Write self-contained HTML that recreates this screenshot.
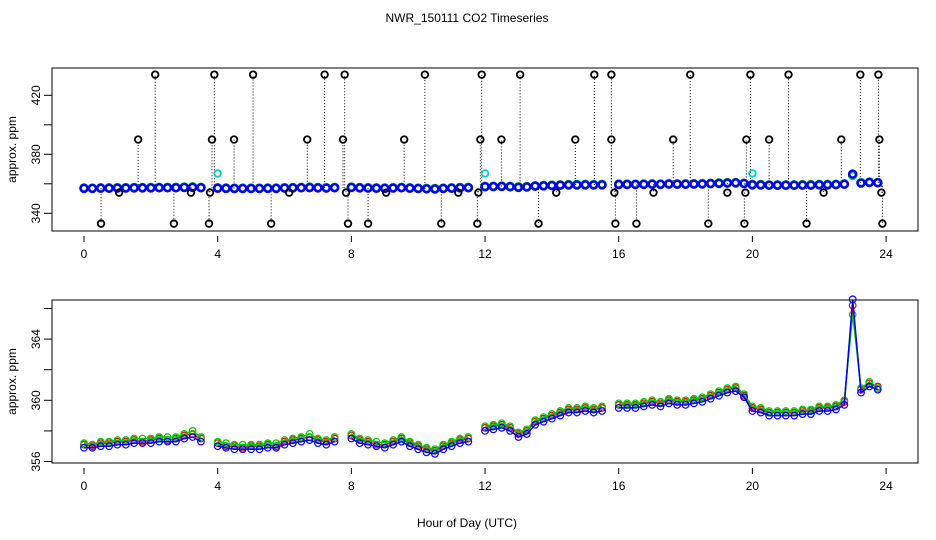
<!DOCTYPE html>
<html><head><meta charset="utf-8"><style>
body{margin:0;background:#fff;}
svg{display:block;font-family:"Liberation Sans",sans-serif;}
</style></head><body>
<svg id="chart" width="936" height="540" viewBox="0 0 936 540">
<text x="467" y="22" font-size="12" text-anchor="middle">NWR_150111  CO2 Timeseries</text>
<text x="467" y="527" font-size="12" text-anchor="middle">Hour of Day (UTC)</text>
<g id="topPanel"></g>
<g id="botPanel"></g>
</svg>
<script>
const hours = Array.from({length:96},(_, i)=>i*0.25);
const blueVals = [356.9,356.9,357.0,357.0,357.1,357.1,357.2,357.2,357.2,357.3,357.3,357.3,357.5,357.6,357.3,null,
357.0,356.9,356.8,356.8,356.8,356.8,356.9,356.9,357.1,357.2,357.3,357.4,357.2,357.1,357.3,null,
357.5,357.2,357.1,357.0,356.9,357.1,357.3,357.0,356.8,356.6,356.5,356.8,357.0,357.2,357.3,null,
358.0,358.1,358.2,358.0,357.6,357.8,358.4,358.6,358.8,359.0,359.2,359.2,359.3,359.2,359.3,null,
359.5,359.5,359.5,359.6,359.7,359.6,359.8,359.7,359.7,359.8,359.9,360.1,360.3,360.5,360.6,360.2,
359.3,359.2,359.0,359.0,359.0,359.0,359.1,359.1,359.3,359.3,359.4,359.7,366.6,360.5,360.9,360.7];
const redVals = [357.1,357.0,357.2,357.2,357.3,357.3,357.4,357.3,357.4,357.5,357.4,357.5,357.7,357.8,357.5,null,
357.2,357.0,357.0,356.9,357.0,357.0,357.1,357.0,357.3,357.4,357.5,357.6,357.4,357.3,357.5,null,
357.7,357.4,357.3,357.1,357.1,357.3,357.5,357.2,357.0,356.8,356.7,357.0,357.2,357.4,357.5,null,
358.2,358.3,358.4,358.2,357.8,358.0,358.6,358.8,359.0,359.2,359.4,359.4,359.5,359.4,359.5,null,
359.7,359.7,359.7,359.8,359.9,359.8,360.0,359.9,359.9,360.0,360.1,360.3,360.5,360.7,360.8,360.3,
359.5,359.4,359.2,359.2,359.2,359.2,359.3,359.3,359.5,359.5,359.6,359.9,366.2,360.7,361.1,360.9];
const greenVals = [357.2,357.1,357.3,357.3,357.4,357.4,357.5,357.5,357.5,357.6,357.6,357.6,357.8,358.0,357.6,null,
357.3,357.2,357.1,357.1,357.1,357.1,357.2,357.2,357.4,357.5,357.6,357.8,357.5,357.4,357.6,null,
357.8,357.5,357.4,357.3,357.2,357.4,357.6,357.3,357.1,356.9,356.8,357.1,357.3,357.5,357.6,null,
358.3,358.4,358.5,358.3,357.9,358.1,358.7,358.9,359.1,359.3,359.5,359.5,359.6,359.5,359.6,null,
359.8,359.8,359.8,359.9,360.0,359.9,360.1,360.0,360.0,360.1,360.2,360.4,360.6,360.8,360.9,360.4,
359.6,359.5,359.3,359.3,359.3,359.3,359.4,359.4,359.6,359.6,359.7,360.0,365.6,360.8,361.2,360.8];
const outlierHours = [2.13,3.9,5.06,7.2,7.8,10.2,11.9,13.05,15.27,15.78,18.14,19.94,21.08,23.23,23.77,
1.62,3.83,4.49,6.68,7.75,9.58,11.86,12.49,14.7,15.78,17.63,19.82,20.5,22.66,23.8,
1.05,3.2,3.77,6.14,7.84,9.04,11.2,11.8,14.13,15.87,17.04,19.25,19.79,22.13,23.86,
0.51,2.69,3.74,5.6,7.9,8.5,10.69,11.77,13.6,15.9,16.53,18.68,19.76,21.62,23.89];
const outlierVals = [434,434,434,434,434,434,434,434,434,434,434,434,434,434,434,
390,390,390,390,390,390,390,390,390,390,390,390,390,390,390,
354,354,354,354,354,354,354,354,354,354,354,354,354,354,354,
333,333,333,333,333,333,333,333,333,333,333,333,333,333,333];
const cyanHours = [4.0,12.0,20.0];
const cyanVals = [367,367,367];
const xTicks = [0,4,8,12,16,20,24];
const topYTicks = [340,360,380,400,420];
const topYLabels = [340,380,420];
const botYTicks = [356,358,360,362,364,366];
const botYLabels = [356,360,364];

const NS="http://www.w3.org/2000/svg";
const X = h => 84 + h*33.42;
const Ytop = v => 95.3 + (420-v)*1.475;
const Ybot = v => 400.3 - (v-360)*15.3;
function mk(parent, tag, attrs){const e=document.createElementNS(NS,tag);for(const k in attrs)e.setAttribute(k,attrs[k]);parent.appendChild(e);return e;}

function axes(g, boxTop, boxBot, yTicks, yLabels, Y, prefix){
  let e=mk(g,'rect',{x:52,y:boxTop,width:866,height:boxBot-boxTop,fill:'none',stroke:'#000','stroke-width':1});
  
  
  xTicks.forEach(t=>{
    let l=mk(g,'line',{x1:X(t),x2:X(t),y1:boxBot+5,y2:boxBot+11,stroke:'#000'});
    
    
    let tx=mk(g,'text',{x:X(t),y:boxBot+27,'font-size':12,'text-anchor':'middle'});tx.textContent=t;
    
    
  });
  yTicks.forEach(t=>{
    let l=mk(g,'line',{x1:44,x2:52,y1:Y(t),y2:Y(t),stroke:'#000'});
    
    
  });
  yLabels.forEach(t=>{
    let tx=mk(g,'text',{x:0,y:0,'font-size':12,'text-anchor':'middle',transform:`translate(40,${Y(t)}) rotate(-90)`});tx.textContent=t;
    
    
  });
  let yt=mk(g,'text',{x:0,y:0,'font-size':12,'text-anchor':'middle',transform:`translate(16,${(boxTop+boxBot)/2}) rotate(-90)`});yt.textContent='approx. ppm';
  
  
}

const topG=document.getElementById('topPanel');
axes(topG,68,231,topYTicks,topYLabels,Ytop,'top');
outlierHours.forEach((h,i)=>{
  const v=outlierVals[i];
  const idx=Math.min(95,Math.round(h/0.25));
  const base=blueVals[idx]!=null?blueVals[idx]:357;
  let l=mk(topG,'line',{x1:X(h),x2:X(h),y1:Ytop(base),y2:Ytop(v),stroke:'#000','stroke-dasharray':'1,2'});
  
  
});
[['#ff0000',redVals],['#00dd00',greenVals],['#0000ff',blueVals]].forEach(([c,arr])=>{
  arr.forEach((v,i)=>{ if(v==null)return;
    let p=mk(topG,'circle',{cx:X(hours[i]),cy:Ytop(v),r:3.5,fill:'none',stroke:c,'stroke-width':2.5});
    
    
  });
});
outlierHours.forEach((h,i)=>{
  let c=mk(topG,'circle',{cx:X(h),cy:Ytop(outlierVals[i]),r:3.3,fill:'none',stroke:'#000','stroke-width':1.8});
  
  
});
cyanHours.forEach((h,i)=>{
  let c=mk(topG,'circle',{cx:X(h),cy:Ytop(cyanVals[i]),r:3.3,fill:'none',stroke:'#00cccc','stroke-width':1.8});
  
  
});

const botG=document.getElementById('botPanel');
axes(botG,300,463,botYTicks,botYLabels,Ybot,'bottom');
[['#ff0000',redVals],['#00cc00',greenVals],['#0000ff',blueVals]].forEach(([c,arr])=>{
  let d='',pen=false;
  arr.forEach((v,i)=>{ if(v==null){pen=false;return;} d+=(pen?'L':'M')+X(hours[i]).toFixed(1)+' '+Ybot(v).toFixed(1); pen=true;});
  let p=mk(botG,'path',{d:d,fill:'none',stroke:c,'stroke-width':1.5});
  
  
  arr.forEach((v,i)=>{ if(v==null)return;
    let o=mk(botG,'circle',{cx:X(hours[i]),cy:Ybot(v),r:3.3,fill:'none',stroke:c,'stroke-width':1.2});
    
    
  });
});
</script>
</body></html>
